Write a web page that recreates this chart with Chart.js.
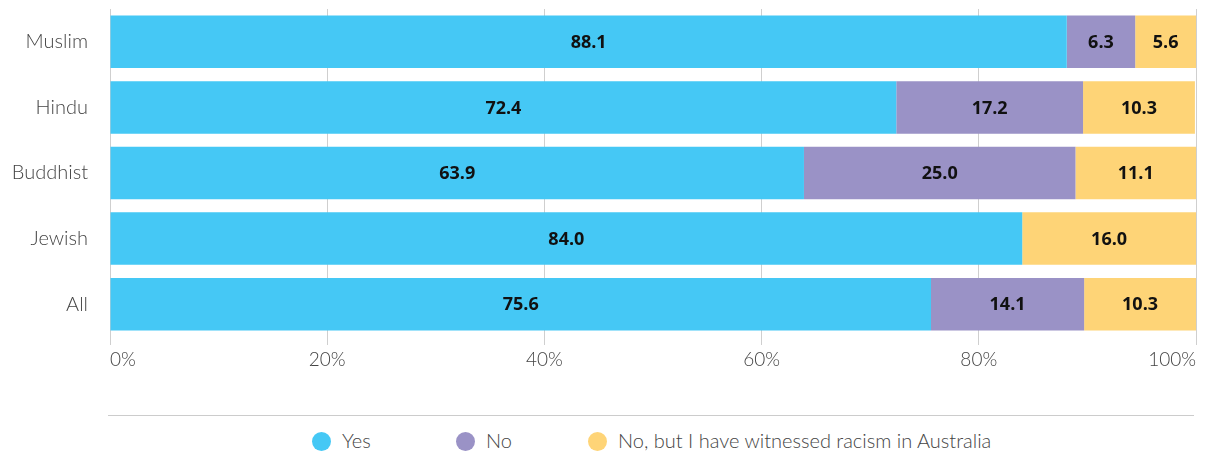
<!DOCTYPE html>
<html>
<head>
<meta charset="utf-8">
<script src="https://cdn.jsdelivr.net/npm/chart.js@4.4.1/dist/chart.umd.min.js"></script>
<style>
  body { margin: 0; background: #fff; }
  #wrap { position: relative; width: 1211px; height: 460px; overflow: hidden; }
  #chartBox { position: absolute; left: 0; top: 0; width: 1211px; height: 380px; }
  #sep { position: absolute; left: 108px; top: 415px; width: 1086px; border-top: 1px solid #ccc; }
  #legend { position: absolute; top: 428px; left: 0; height: 24px; font-family: Lato, sans-serif; font-weight: 300; font-size: 20px; color: #444; }
  #legend .item { position: absolute; top: 0; white-space: nowrap; line-height: 24px; }
  #legend .dot { display: inline-block; width: 19px; height: 19px; border-radius: 50%; vertical-align: -3px; margin-right: 11px; }
</style>
</head>
<body>
<div id="wrap">
  <div id="chartBox"><canvas id="racismChart"></canvas></div>
  <div id="sep"></div>
  <div id="legend"></div>
</div>
<script>
  const groups = ['Muslim', 'Hindu', 'Buddhist', 'Jewish', 'All'];
  const yesValues = [88.1, 72.4, 63.9, 84.0, 75.6];
  const noValues = [6.3, 17.2, 25.0, 0, 14.1];
  const witnessedValues = [5.6, 10.3, 11.1, 16.0, 10.3];
  const xTicks = [0, 20, 40, 60, 80, 100];

  const seriesNames = ['Yes', 'No', 'No, but I have witnessed racism in Australia'];
  const seriesColors = ['#45c8f5', '#9a92c6', '#fed477'];

  // value labels in the middle of each segment
  const segmentLabels = {
    id: 'segmentLabels',
    afterDatasetsDraw(chart) {
      const ctx = chart.ctx;
      ctx.save();
      ctx.font = '700 18px "Open Sans", sans-serif';
      ctx.fillStyle = '#111';
      ctx.textAlign = 'center';
      ctx.textBaseline = 'middle';
      chart.data.datasets.forEach((ds, i) => {
        chart.getDatasetMeta(i).data.forEach((bar, j) => {
          const v = ds.data[j];
          if (!v) return;
          const mid = (bar.x + bar.base) / 2;
          ctx.fillText(v.toFixed(1), mid, bar.y + 1);
        });
      });
      ctx.restore();
    }
  };

  const ctx = document.getElementById('racismChart').getContext('2d');

  const chart = new Chart(ctx, {
    type: 'bar',
    data: {
      labels: groups,
      datasets: [yesValues, noValues, witnessedValues].map((vals, i) => ({
        label: seriesNames[i],
        data: vals,
        backgroundColor: seriesColors[i],
        borderWidth: 0,
        categoryPercentage: 1,
        barPercentage: 0.8,
      })),
    },
    options: {
      indexAxis: 'y',
      responsive: true,
      maintainAspectRatio: false,
      animation: false,
      layout: { padding: { top: 9, right: 15, left: 0, bottom: 0 } },
      plugins: {
        legend: { display: false },
        tooltip: { enabled: false },
      },
      scales: {
        x: {
          stacked: true,
          min: 0,
          max: 100,
          afterBuildTicks(scale) {
            scale.ticks = xTicks.map(v => ({ value: v }));
          },
          afterFit(scale) {
            scale.height = 43;
            scale.paddingLeft = 0;
            scale.paddingRight = 0;
          },
          grid: { color: '#cfcfcf', tickLength: 8, drawTicks: true },
          border: { display: false },
          ticks: {
            align: 'inner',
            padding: 3,
            color: '#444',
            font: { family: 'Lato', weight: '300', size: 19 },
            callback: v => v + '%',
          },
        },
        y: {
          stacked: true,
          afterFit(scale) {
            scale.width = 110;
            scale.paddingTop = 0;
            scale.paddingBottom = 0;
          },
          grid: { display: false },
          border: { display: false },
          ticks: {
            padding: 14,
            color: '#444',
            font: { family: 'Lato', weight: '300', size: 20 },
          },
        },
      },
    },
    plugins: [segmentLabels],
  });

  // legend below the chart
  const legendLeft = [312, 456, 588];
  const legendEl = document.getElementById('legend');
  seriesNames.forEach((name, i) => {
    const item = document.createElement('div');
    item.className = 'item';
    item.style.left = legendLeft[i] + 'px';
    const dot = document.createElement('span');
    dot.className = 'dot';
    dot.style.background = seriesColors[i];
    item.appendChild(dot);
    item.appendChild(document.createTextNode(name));
    legendEl.appendChild(item);
  });
</script>
</body>
</html>
